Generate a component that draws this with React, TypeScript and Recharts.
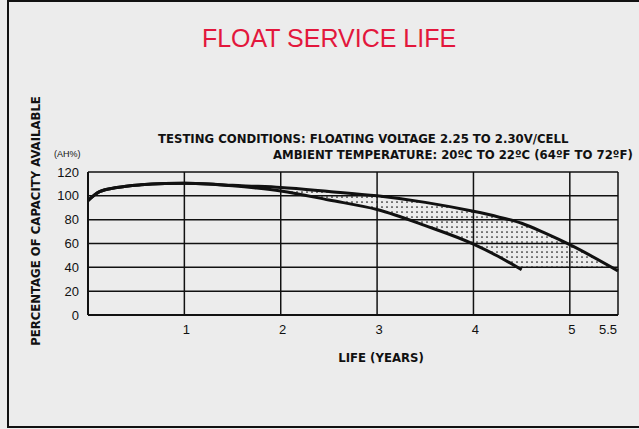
import { ComposedChart, Line, Area, XAxis, YAxis, CartesianGrid } from 'recharts';

// life in years and capacity (AH%)
const years = [0, 0.12, 0.3, 0.55, 0.8, 1, 1.25, 1.5, 1.75, 2, 2.5, 3, 3.5, 4, 4.25, 4.5, 4.75, 5, 5.5];
const upperCapacity = [96, 103.5, 107, 109.3, 110.3, 110.5, 110, 108.8, 108, 107, 103.7, 100, 94.5, 87, 82.5, 77, 68.5, 59, 37];
const lowerCapacity = [96, 103.5, 107, 109.3, 110.3, 110.5, 110, 108.5, 106.5, 104, 96.5, 88.5, 75, 59.5, 49.5, 38, null, null, null];
const bandFloor = [96, 103.5, 107, 109.3, 110.3, 110.5, 110, 108.5, 106.5, 104, 96.5, 88.5, 75, 59.5, 49.5, 38, 38, 38, 37];

const xTicks = [0, 1, 2, 3, 4, 5, 5.5];
const yTicks = [0, 20, 40, 60, 80, 100, 120];

const data = years.map((year, i) => ({
  year,
  upper: upperCapacity[i],
  lower: lowerCapacity[i],
  band: [bandFloor[i], upperCapacity[i]],
}));

const condensed = '"Liberation Sans Narrow", "DejaVu Sans Condensed", "Arial Narrow", sans-serif';
const plain = '"Liberation Sans", Arial, sans-serif';

const XTick = (props: any) => {
  const { x, y, payload } = props;
  if (payload.value === 0) return null;
  const last = payload.value === 5.5;
  return (
    <text
      x={last ? x - 1 : x + 2}
      y={y + 1}
      textAnchor={last ? 'end' : 'middle'}
      dominantBaseline="hanging"
      fontFamily={plain}
      fontSize={13}
      fill="#111"
    >
      {payload.value}
    </text>
  );
};

const boldLabel = {
  position: 'absolute' as const,
  fontFamily: condensed,
  fontWeight: 'bold' as const,
  color: '#111',
  whiteSpace: 'nowrap' as const,
};

export default function App() {
  return (
    <div
      style={{
        position: 'fixed',
        left: 0,
        top: 0,
        width: 639,
        height: 429,
        overflow: 'hidden',
        background: '#ececec',
      }}
    >
      <div
        style={{
          position: 'absolute',
          left: 7,
          top: 0,
          width: 700,
          height: 424,
          border: '2.5px solid #111',
        }}
      />
      <div
        style={{
          position: 'absolute',
          left: 329,
          top: 38,
          transform: 'translate(-50%, -50%)',
          color: '#e3173c',
          fontFamily: plain,
          fontSize: 25,
          whiteSpace: 'nowrap',
        }}
      >
        FLOAT SERVICE LIFE
      </div>
      <div style={{ ...boldLabel, left: 158, top: 131, fontSize: 13 }}>
        TESTING CONDITIONS: FLOATING VOLTAGE 2.25 TO 2.30V/CELL
      </div>
      <div style={{ ...boldLabel, left: 273, top: 147, fontSize: 13 }}>
        AMBIENT TEMPERATURE: 20ºC TO 22ºC (64ºF TO 72ºF)
      </div>
      <div
        style={{
          position: 'absolute',
          left: 54,
          top: 149,
          fontFamily: plain,
          fontSize: 9,
          color: '#111',
          whiteSpace: 'nowrap',
        }}
      >
        (AH%)
      </div>
      <div
        style={{
          ...boldLabel,
          left: 35,
          top: 221,
          transform: 'translate(-50%, -50%) rotate(-90deg)',
          fontSize: 13,
        }}
      >
        PERCENTAGE OF CAPACITY AVAILABLE
      </div>
      <div
        style={{
          ...boldLabel,
          left: 381,
          top: 357,
          transform: 'translate(-50%, -50%)',
          fontSize: 13,
        }}
      >
        LIFE (YEARS)
      </div>
      <div style={{ position: 'absolute', left: 0, top: 0 }}>
        <ComposedChart
          width={639}
          height={429}
          data={data}
          margin={{ top: 172, right: 21, bottom: 84, left: 48 }}
        >
          <defs>
            <pattern id="dots" width="5" height="5" patternUnits="userSpaceOnUse">
              <circle cx="2" cy="2" r="0.85" fill="#111" />
            </pattern>
          </defs>
          <CartesianGrid stroke="#111" strokeWidth={1.5} />
          <XAxis
            type="number"
            dataKey="year"
            domain={[0, 5.5]}
            ticks={xTicks}
            interval={0}
            height={30}
            axisLine={{ stroke: '#111', strokeWidth: 2 }}
            tickLine={false}
            tick={<XTick />}
          />
          <YAxis
            type="number"
            domain={[0, 120]}
            ticks={yTicks}
            interval={0}
            width={40}
            axisLine={{ stroke: '#111', strokeWidth: 2 }}
            tickLine={false}
            tick={{ fill: '#111', fontSize: 13, fontFamily: plain }}
            tickMargin={3}
          />
          <Area
            dataKey="band"
            type="monotone"
            stroke="none"
            fill="url(#dots)"
            fillOpacity={1}
            isAnimationActive={false}
          />
          <Line
            dataKey="upper"
            type="monotone"
            stroke="#111"
            strokeWidth={3}
            dot={false}
            isAnimationActive={false}
          />
          <Line
            dataKey="lower"
            type="monotone"
            stroke="#111"
            strokeWidth={3}
            dot={false}
            isAnimationActive={false}
          />
        </ComposedChart>
      </div>
    </div>
  );
}
